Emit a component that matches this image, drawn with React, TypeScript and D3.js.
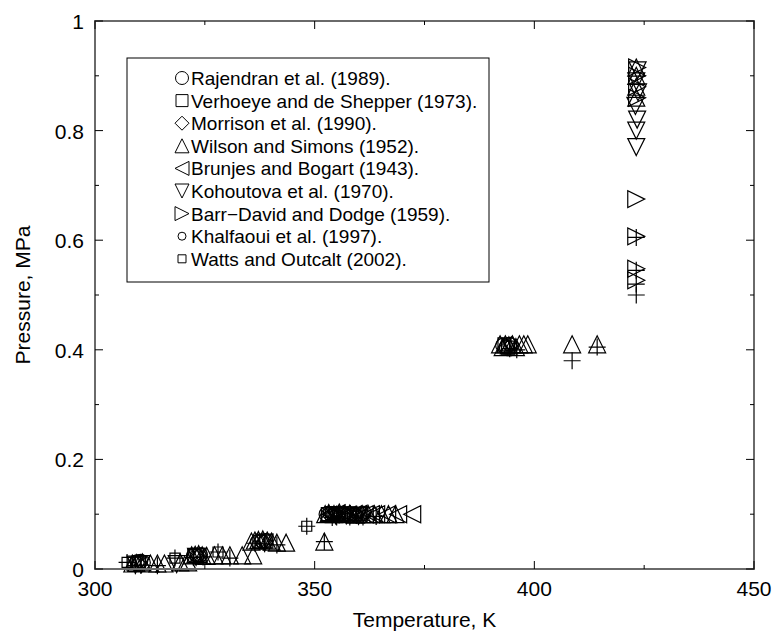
import React from "react";
import * as d3 from "d3";

// Vapour pressure measurements, temperature in K and pressure in MPa
const rajendran: [number, number][] = [
  [309.6, 0.013], [310.4, 0.014], [311.0, 0.012], [322.4, 0.024], [323.2, 0.025], [324.0, 0.026],
  [337.0, 0.05], [338.0, 0.051], [338.8, 0.052], [352.6, 0.1], [353.5, 0.101], [354.6, 0.1],
  [355.5, 0.099], [356.6, 0.1], [357.8, 0.101], [359.0, 0.1], [392.8, 0.408], [393.6, 0.405], [394.4, 0.41],
];
const verhoeye: [number, number][] = [
  [309.0, 0.01], [310.0, 0.012], [322.6, 0.024], [323.8, 0.026], [337.4, 0.049], [339.0, 0.05],
  [353.0, 0.1], [354.0, 0.102], [356.0, 0.1], [358.4, 0.099], [360.2, 0.1], [393.2, 0.41], [394.0, 0.404],
];
const morrison: [number, number][] = [
  [309.8, 0.011], [323.5, 0.023], [338.4, 0.05], [353.8, 0.1], [354.2, 0.1], [355.0, 0.101],
  [357.0, 0.1], [359.6, 0.1], [361.0, 0.101], [394.8, 0.41],
];
const wilson: [number, number][] = [
  [308.5, 0.01], [309.4, 0.011], [310.8, 0.012], [312.6, 0.01], [314.2, 0.01], [315.8, 0.01],
  [319.4, 0.012], [321.2, 0.012], [322.0, 0.025], [322.8, 0.026], [323.6, 0.027], [324.4, 0.025],
  [325.4, 0.024], [327.2, 0.025], [329.0, 0.025], [330.7, 0.025], [333.5, 0.025], [336.0, 0.025],
  [335.6, 0.05], [336.4, 0.052], [337.2, 0.053], [338.2, 0.054], [339.2, 0.052], [340.2, 0.05],
  [341.4, 0.048], [343.5, 0.048], [352.2, 0.05],
  [352.4, 0.1], [353.2, 0.102], [354.4, 0.1], [355.6, 0.103], [356.8, 0.1], [358.0, 0.101],
  [359.4, 0.099], [360.8, 0.1], [362.2, 0.1], [363.6, 0.1], [365.2, 0.1], [366.8, 0.1], [368.4, 0.1],
  [392.2, 0.41], [392.8, 0.405], [393.4, 0.41], [394.2, 0.408], [395.0, 0.41], [395.8, 0.405],
  [396.6, 0.41], [397.6, 0.41], [398.5, 0.41], [408.6, 0.41], [414.3, 0.41],
  [423.2, 0.86], [423.2, 0.88], [423.2, 0.9], [423.2, 0.915],
];
const brunjes: [number, number][] = [
  [353.6, 0.1], [355.0, 0.102], [356.2, 0.1], [357.6, 0.099], [358.8, 0.1], [360.0, 0.101],
  [361.4, 0.1], [362.8, 0.1], [364.0, 0.1], [366.5, 0.1], [369.0, 0.1], [372.2, 0.1],
];
const kohoutova: [number, number][] = [
  [309.2, 0.008], [310.6, 0.009], [318.6, 0.009], [323.0, 0.022], [338.6, 0.048],
  [354.8, 0.098], [357.2, 0.098], [360.0, 0.097],
  [423.2, 0.77], [423.2, 0.8], [423.4, 0.82], [423.0, 0.845], [423.6, 0.87], [423.2, 0.89], [423.5, 0.91],
];
const barrDavid: [number, number][] = [
  [423.2, 0.675], [423.2, 0.607], [423.2, 0.548], [423.2, 0.527],
  [423.4, 0.86], [423.4, 0.88], [423.4, 0.9], [423.4, 0.915],
];
const khalfaoui: [number, number][] = [
  [355.2, 0.1], [357.4, 0.1], [359.6, 0.1], [361.8, 0.1],
];
const watts: [number, number][] = [
  [307.3, 0.012], [318.2, 0.02], [328.0, 0.031], [348.2, 0.078],
];
const model: [number, number][] = [
  [307.3, 0.012], [318.2, 0.02], [328.0, 0.031], [348.2, 0.078], [352.2, 0.05],
  [309.2, 0.006], [310.4, 0.007], [314.2, 0.006], [322.4, 0.021], [324.6, 0.022], [330.7, 0.02],
  [336.4, 0.047], [338.6, 0.046], [341.4, 0.044], [354.0, 0.094], [355.0, 0.095], [358.0, 0.095],
  [361.0, 0.095], [364.0, 0.096], [394.4, 0.402], [396.0, 0.4], [408.6, 0.38], [414.3, 0.405],
  [423.2, 0.5], [423.2, 0.52], [423.2, 0.545], [423.2, 0.605],
];

const legendLabels = [
  "Rajendran et al. (1989).",
  "Verhoeye and de Shepper (1973).",
  "Morrison et al. (1990).",
  "Wilson and Simons (1952).",
  "Brunjes and Bogart (1943).",
  "Kohoutova et al. (1970).",
  "Barr\u2212David and Dodge (1959).",
  "Khalfaoui et al. (1997).",
  "Watts and Outcalt (2002).",
];

const xTicks = [300, 350, 400, 450];
const xMinor = [325, 375, 425];
const yTicks = [0, 0.2, 0.4, 0.6, 0.8, 1];
const yMinor = [0.1, 0.3, 0.5, 0.7, 0.9];

type Shape = "circle" | "square" | "diamond" | "up" | "left" | "down" | "right" | "plus";

function shapePath(kind: Shape, s: number): string {
  const h = s / 2;
  const p = d3.path();
  switch (kind) {
    case "circle":
      p.moveTo(h, 0);
      p.arc(0, 0, h, 0, Math.PI * 2);
      break;
    case "square":
      p.rect(-h, -h, s, s);
      break;
    case "diamond":
      p.moveTo(0, -h); p.lineTo(h, 0); p.lineTo(0, h); p.lineTo(-h, 0); p.closePath();
      break;
    case "up":
      p.moveTo(0, -h); p.lineTo(h, h); p.lineTo(-h, h); p.closePath();
      break;
    case "down":
      p.moveTo(0, h); p.lineTo(h, -h); p.lineTo(-h, -h); p.closePath();
      break;
    case "left":
      p.moveTo(-h, 0); p.lineTo(h, -h); p.lineTo(h, h); p.closePath();
      break;
    case "right":
      p.moveTo(h, 0); p.lineTo(-h, -h); p.lineTo(-h, h); p.closePath();
      break;
    case "plus":
      p.moveTo(-h, 0); p.lineTo(h, 0); p.moveTo(0, -h); p.lineTo(0, h);
      break;
  }
  return p.toString();
}

const series: { data: [number, number][]; shape: Shape; size: number }[] = [
  { data: rajendran, shape: "circle", size: 14 },
  { data: verhoeye, shape: "square", size: 13 },
  { data: morrison, shape: "diamond", size: 15 },
  { data: wilson, shape: "up", size: 17 },
  { data: brunjes, shape: "left", size: 17 },
  { data: kohoutova, shape: "down", size: 17 },
  { data: barrDavid, shape: "right", size: 17 },
  { data: khalfaoui, shape: "circle", size: 9 },
  { data: watts, shape: "square", size: 10 },
  { data: model, shape: "plus", size: 17 },
];

const legendSymbols: { shape: Shape; size: number }[] = [
  { shape: "circle", size: 13 },
  { shape: "square", size: 12 },
  { shape: "diamond", size: 14 },
  { shape: "up", size: 14 },
  { shape: "left", size: 14 },
  { shape: "down", size: 14 },
  { shape: "right", size: 14 },
  { shape: "circle", size: 8 },
  { shape: "square", size: 8 },
];

export default function App() {
  const W = 778;
  const H = 634;
  const left = 95, right = 754, top = 21, bottom = 569;
  const x = d3.scaleLinear().domain([300, 450]).range([left, right]);
  const y = d3.scaleLinear().domain([0, 1]).range([bottom, top]);
  const font = "'Liberation Sans', Arial, Helvetica, sans-serif";

  const legX = 127, legY = 58, legW = 362, legH = 224;
  const rowH = 22.6;

  return (
    <svg width={W} height={H} style={{ position: "absolute", left: 0, top: 0, background: "#fff" }} fontFamily={font}>
      <rect x={0} y={0} width={W} height={H} fill="#fff" />
      {/* data markers */}
      <g fill="none" stroke="#000" strokeWidth={1.2}>
        {series.map((s, si) =>
          s.data.map((d, i) => (
            <path key={`${si}-${i}`} d={shapePath(s.shape, s.size)} transform={`translate(${x(d[0])},${y(d[1])})`} />
          ))
        )}
      </g>
      {/* frame */}
      <rect x={left} y={top} width={right - left} height={bottom - top} fill="none" stroke="#6a6a6a" strokeWidth={2} />
      {/* ticks */}
      <g stroke="#000" strokeWidth={1}>
        {xTicks.map((t) => (
          <g key={`xt${t}`}>
            <line x1={x(t)} x2={x(t)} y1={bottom} y2={bottom - 8} />
            <line x1={x(t)} x2={x(t)} y1={top} y2={top + 8} />
          </g>
        ))}
        {xMinor.map((t) => (
          <g key={`xm${t}`}>
            <line x1={x(t)} x2={x(t)} y1={bottom} y2={bottom - 4} />
            <line x1={x(t)} x2={x(t)} y1={top} y2={top + 4} />
          </g>
        ))}
        {yTicks.map((t) => (
          <g key={`yt${t}`}>
            <line x1={left} x2={left + 8} y1={y(t)} y2={y(t)} />
            <line x1={right} x2={right - 8} y1={y(t)} y2={y(t)} />
          </g>
        ))}
        {yMinor.map((t) => (
          <g key={`ym${t}`}>
            <line x1={left} x2={left + 4} y1={y(t)} y2={y(t)} />
            <line x1={right} x2={right - 4} y1={y(t)} y2={y(t)} />
          </g>
        ))}
      </g>
      {/* tick labels */}
      <g fontSize={21} fill="#000">
        {xTicks.map((t) => (
          <text key={`xl${t}`} x={x(t)} y={bottom + 27} textAnchor="middle">{t}</text>
        ))}
        {yTicks.map((t) => (
          <text key={`yl${t}`} x={left - 11} y={y(t) + 8} textAnchor="end">{d3.format("~g")(t)}</text>
        ))}
      </g>
      {/* axis titles */}
      <text x={(left + right) / 2} y={627} textAnchor="middle" fontSize={21}>Temperature, K</text>
      <text transform={`translate(30,${(top + bottom) / 2}) rotate(-90)`} textAnchor="middle" fontSize={21}>Pressure, MPa</text>
      {/* legend */}
      <rect x={legX} y={legY} width={legW} height={legH} fill="#fff" stroke="#000" strokeWidth={1} />
      {legendLabels.map((lab, i) => {
        const cy = legY + 20 + i * rowH;
        const sym = legendSymbols[i];
        return (
          <g key={lab}>
            <path d={shapePath(sym.shape, sym.size)} transform={`translate(182,${cy})`} fill="none" stroke="#000" strokeWidth={1} />
            <text x={191} y={cy + 7} fontSize={19}>{lab}</text>
          </g>
        );
      })}
    </svg>
  );
}
